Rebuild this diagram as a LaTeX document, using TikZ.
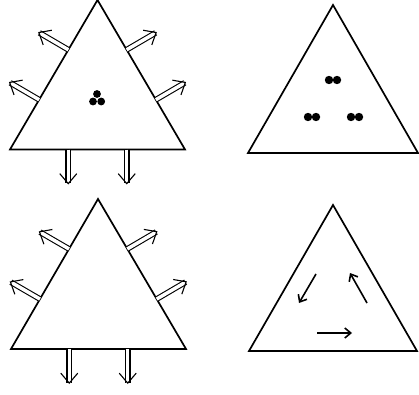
\documentclass[tikz,border=0pt]{standalone}
\usetikzlibrary{arrows.meta, calc}
\tikzset{
    % Triangles
    tri/.style={line width=1.7pt, line join=miter},
    % Arrows
    flux/.style={double, double distance=3.5pt, line width=1.1pt,
                 -{Straight Barb[length=10pt, width=17pt]}},
    spin/.style={line width=1.6pt, -{Straight Barb[length=6pt, width=10pt]}},
    ball/.style={fill=black}
}

\begin{document}
\begin{tikzpicture}[x=1pt, y=1pt]
\useasboundingbox (0,0) rectangle (419,394);

% open system with particles
\coordinate (a1) at (97.5,394);
\coordinate (b1) at (10,244.5);
\coordinate (c1) at (185,244.5);
\draw[tri] (a1) -- (b1) -- (c1) -- cycle;
\foreach \u/\v in {a1/b1, b1/c1, c1/a1}
  \foreach \t in {0.333, 0.667} {
    \path ($(\u)!\t!(\v)$) coordinate (p);
    \draw[flux] (p) -- ($(p)!35pt!-90:(\v)$);
  }
\fill[ball] (97,300) circle (3.9pt);
\fill[ball] (93,292.5) circle (3.9pt);
\fill[ball] (101.2,292.5) circle (3.9pt);

% closed system with pairs
\coordinate (a2) at (333,389);
\coordinate (b2) at (248,241);
\coordinate (c2) at (418,241);
\draw[tri] (a2) -- (b2) -- (c2) -- cycle;
\foreach \x/\y in {329/314, 308/277, 351/277} {
  \fill[ball] (\x,\y) circle (4.2pt);
  \fill[ball] (\x+8,\y) circle (4.2pt);
}

% open system, empty
\coordinate (a3) at (98,195);
\coordinate (b3) at (11,45);
\coordinate (c3) at (186,45);
\draw[tri] (a3) -- (b3) -- (c3) -- cycle;
\foreach \u/\v in {a3/b3, b3/c3, c3/a3}
  \foreach \t in {0.333, 0.667} {
    \path ($(\u)!\t!(\v)$) coordinate (p);
    \draw[flux] (p) -- ($(p)!35pt!-90:(\v)$);
  }

% closed system with circulation
\coordinate (a4) at (333,189);
\coordinate (b4) at (249,43);
\coordinate (c4) at (417,43);
\draw[tri] (a4) -- (b4) -- (c4) -- cycle;
\coordinate (s1) at (316,120);
\coordinate (e1) at (299,91);
\coordinate (s2) at (367,91);
\coordinate (e2) at (350,121);
\coordinate (s3) at (317,61);
\coordinate (e3) at (352,61);
\draw[spin] (s1) -- (e1);
\draw[spin] (s2) -- (e2);
\draw[spin] (s3) -- (e3);

\end{tikzpicture}
\end{document}
